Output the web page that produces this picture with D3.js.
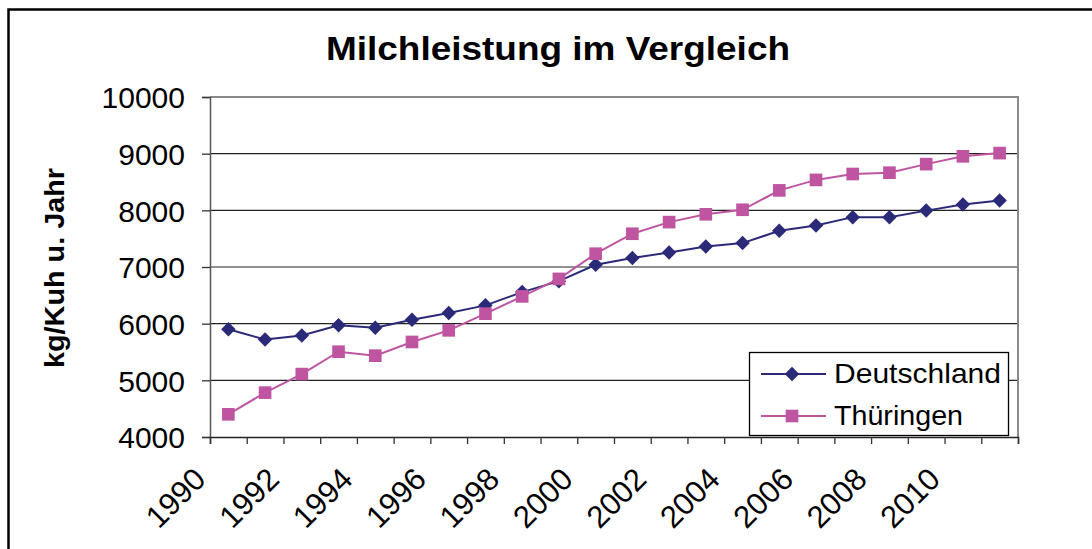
<!DOCTYPE html>
<head>
  <meta charset="utf-8">
  <script src="https://d3js.org/d3.v7.min.js"></script>
  <style>
    body { margin:0; background:#fff; }
    text { font-family: "Liberation Sans", Arial, sans-serif; fill:#000; }
  </style>
</head>
<body>
  <svg width="1092" height="549"></svg>
  <script>
    // data
    var years = d3.range(1990, 2012);
    var deutschland = [5900, 5720, 5790, 5970, 5930, 6070, 6187, 6323, 6557, 6750,
                       7040, 7158, 7257, 7363, 7422, 7639, 7732, 7880, 7880, 7995, 8104, 8173];
    var thueringen  = [4400, 4783, 5110, 5505, 5435, 5677, 5882, 6176, 6481, 6790,
                       7235, 7587, 7792, 7930, 8010, 8352, 8537, 8641, 8664, 8815, 8953, 9010];
    var yTicks = [4000, 5000, 6000, 7000, 8000, 9000, 10000];
    var seriesNames = ["Deutschland", "Thüringen"];

    var svg = d3.select("svg");

    // plot area (names chosen to avoid window.top etc.)
    var pLeft = 210, pRight = 1018, pTop = 97, pBottom = 437;

    var x = d3.scaleLinear().domain([1990, 2012]).range([pLeft, pRight]);
    var y = d3.scaleLinear().domain([4000, 10000]).range([pBottom, pTop]);

    // outer chart frame (cropped at right / bottom)
    svg.append("rect")
      .attr("x", 8.5).attr("y", 9.5)
      .attr("width", 1200).attr("height", 700)
      .attr("fill", "none").attr("stroke", "#000").attr("stroke-width", 2.5);

    // title
    svg.append("text")
      .attr("x", 558).attr("y", 60)
      .attr("text-anchor", "middle")
      .style("font-size", "34px").style("font-weight", "bold")
      .attr("textLength", 464).attr("lengthAdjust", "spacingAndGlyphs")
      .text("Milchleistung im Vergleich");

    // y label
    svg.append("text")
      .attr("transform", "translate(64,268) rotate(-90)")
      .attr("text-anchor", "middle")
      .style("font-size", "28px").style("font-weight", "bold")
      .attr("textLength", 200).attr("lengthAdjust", "spacingAndGlyphs")
      .text("kg/Kuh u. Jahr");

    // gridlines
    svg.append("g").selectAll("line")
      .data(yTicks.slice(1, -1))
      .enter().append("line")
      .attr("x1", pLeft).attr("x2", pRight)
      .attr("y1", function(d) { return y(d); })
      .attr("y2", function(d) { return y(d); })
      .attr("stroke", "#222").attr("stroke-width", 1.2);

    // plot border top / right
    svg.append("path")
      .attr("d", "M" + pLeft + "," + pTop + "H" + pRight + "V" + pBottom)
      .attr("fill", "none").attr("stroke", "#8a8a8a").attr("stroke-width", 2);

    // y axis
    var yAxis = svg.append("g")
      .attr("transform", "translate(" + pLeft + ",0)")
      .call(d3.axisLeft(y).tickValues(yTicks).tickSize(8).tickPadding(17).tickFormat(d3.format("d")));
    yAxis.select(".domain").attr("stroke", "#555").attr("stroke-width", 1.5);
    yAxis.selectAll(".tick line").attr("stroke", "#333").attr("stroke-width", 1.3);
    yAxis.selectAll(".tick text").style("font-size", "30px")
      .attr("dy", "0.36em");

    // x axis
    var xAxis = svg.append("g")
      .attr("transform", "translate(0," + pBottom + ")")
      .call(d3.axisBottom(x).tickValues(d3.range(1990, 2013)).tickSize(7)
        .tickFormat(function(d) { return (d % 2 === 0 && d <= 2010) ? d : ""; }));
    xAxis.select(".domain").attr("stroke", "#222").attr("stroke-width", 1.5);
    xAxis.selectAll(".tick line").attr("stroke", "#333").attr("stroke-width", 1.3);
    xAxis.selectAll(".tick text")
      .style("font-size", "31px")
      .attr("text-anchor", "end")
      .attr("y", 0).attr("dy", 0)
      .attr("transform", "translate(-3,44) rotate(-45)");

    // series
    var colors = ["#2a2a78", "#bf55a0"];
    var data = [deutschland, thueringen];

    var line = d3.line()
      .x(function(d, i) { return x(years[i] + 0.5); })
      .y(function(d) { return y(d); });

    function marker(k) {
      return d3.symbol().type(d3.symbolSquare).size(k === 0 ? 105 : 160)();
    }

    data.forEach(function(vals, k) {
      svg.append("path")
        .attr("d", line(vals))
        .attr("fill", "none")
        .attr("stroke", colors[k])
        .attr("stroke-width", 2);

      svg.append("g").selectAll("path")
        .data(vals)
        .enter().append("path")
        .attr("d", marker(k))
        .attr("fill", colors[k])
        .attr("transform", function(d, i) {
          var t = "translate(" + x(years[i] + 0.5) + "," + y(d) + ")";
          return k === 0 ? t + " rotate(45)" : t;
        });
    });

    // legend
    var lg = svg.append("g");
    lg.append("rect")
      .attr("x", 749.5).attr("y", 352.5)
      .attr("width", 259).attr("height", 83)
      .attr("fill", "#fff").attr("stroke", "#000").attr("stroke-width", 1.3);

    var rows = [374, 416];
    var textLen = [167, 129];
    seriesNames.forEach(function(name, k) {
      lg.append("line")
        .attr("x1", 761).attr("x2", 826)
        .attr("y1", rows[k]).attr("y2", rows[k])
        .attr("stroke", colors[k]).attr("stroke-width", 2);
      lg.append("path")
        .attr("d", marker(k))
        .attr("transform", "translate(792," + rows[k] + ")" + (k === 0 ? " rotate(45)" : ""))
        .attr("fill", colors[k]);
      lg.append("text")
        .attr("x", 834).attr("y", rows[k] + 9)
        .style("font-size", "28px")
        .attr("textLength", textLen[k]).attr("lengthAdjust", "spacingAndGlyphs")
        .text(name);
    });
  </script>
</body>
